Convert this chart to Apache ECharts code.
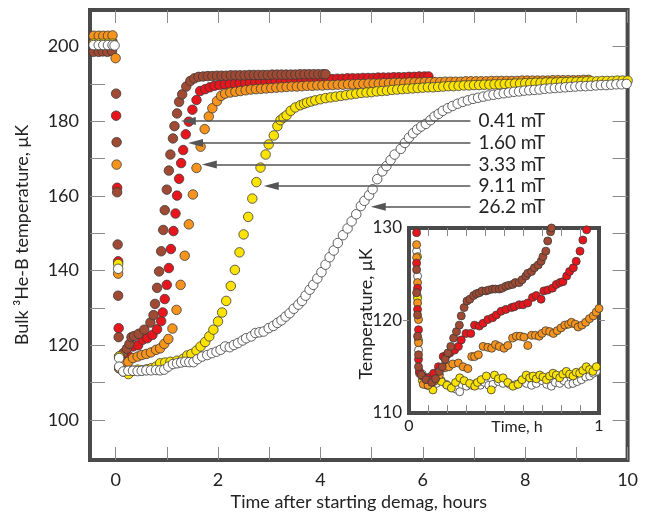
<!DOCTYPE html>
<html>
<head>
<meta charset="utf-8">
<script src="https://cdn.jsdelivr.net/npm/echarts@6/dist/echarts.min.js"></script>
<style>
  html, body { margin: 0; background: #fff; }
  #chart { width: 650px; height: 512px; }
</style>
</head>
<body>
<div id="chart"></div>
<script>
// field labels, colours
const fields = ['0.41 mT', '1.60 mT', '3.33 mT', '9.11 mT', '26.2 mT']
const colors = ['#a04a33', '#e8161c', '#f7941e', '#fde400', '#ffffff']

// main plot: [time h, temperature uK]
const brownMain = [[-0.43,198.6],[-0.33,198.6],[-0.25,198.7],[-0.16,198.6],[-0.07,198.8],
  [0.01,187.4],[0.02,174.4],[0.03,161.0],[0.04,147.0],[0.05,133.3],[0.06,122.2],[0.07,117.0],[0.07,113.9],
  [0.15,117.9],[0.22,119.1],[0.27,120.4],[0.31,122.2],[0.36,122.5],[0.45,123.1],[0.56,124.2],[0.68,126.1],
  [0.74,128.1],[0.77,131.1],[0.81,135.4],[0.85,139.8],[0.89,145.2],[0.93,150.9],[0.96,156.2],[1.00,161.7],
  [1.04,166.8],[1.07,171.1],[1.12,175.4],[1.15,178.7],[1.20,182.1],[1.24,185.2],[1.30,187.2],[1.38,189.3],
  [1.46,190.8],[1.54,191.5],[1.62,191.9],[1.71,192.0],[1.80,192.1],[1.89,192.1],[1.98,192.2],[2.07,192.2],
  [2.16,192.2],[2.25,192.3],[2.34,192.3],[2.43,192.3],[2.52,192.3],[2.61,192.4],[2.70,192.4],[2.79,192.4],
  [2.88,192.4],[2.97,192.4],[3.06,192.5],[3.15,192.5],[3.24,192.5],[3.33,192.5],[3.42,192.5],[3.51,192.5],
  [3.60,192.6],[3.69,192.6],[3.78,192.6],[3.87,192.6],[3.96,192.6],[4.05,192.6],[4.10,192.6]]

const redMain = [[-0.43,201.2],[-0.33,201.2],[-0.24,201.3],[-0.15,201.3],[-0.06,201.3],
  [0.01,181.5],[0.03,162.2],[0.05,142.5],[0.06,124.6],
  [0.14,116.0],[0.25,117.2],[0.34,119.7],[0.44,120.0],[0.53,121.5],[0.62,121.9],[0.72,122.8],[0.81,124.3],
  [0.89,126.5],[0.92,128.8],[0.96,132.4],[1.00,136.2],[1.04,140.7],[1.08,145.8],[1.13,150.6],[1.17,155.3],
  [1.20,160.1],[1.24,164.6],[1.28,168.8],[1.32,172.3],[1.37,176.5],[1.43,179.9],[1.50,183.1],[1.58,185.7],
  [1.65,188.1],[1.75,188.6],[1.84,189.1],[1.93,189.5],[2.03,189.7],[2.13,189.9],[2.23,190.0],[2.33,190.1],
  [2.43,190.2],[2.53,190.3],[2.63,190.4],[2.73,190.5],[2.83,190.6],[2.93,190.6],[3.03,190.7],[3.13,190.7],
  [3.23,190.8],[3.33,190.8],[3.43,190.9],[3.53,190.9],[3.63,191.0],[3.73,191.1],[3.83,191.1],[3.93,191.2],
  [4.03,191.2],[4.13,191.3],[4.23,191.3],[4.33,191.4],[4.43,191.4],[4.53,191.5],[4.63,191.5],[4.73,191.5],
  [4.83,191.6],[4.93,191.6],[5.03,191.6],[5.13,191.7],[5.23,191.7],[5.33,191.7],[5.43,191.8],[5.53,191.8],
  [5.63,191.8],[5.73,191.9],[5.83,191.9],[5.93,192.0],[6.03,192.0],[6.11,192.0]]

const orangeMain = [[-0.43,202.9],[-0.33,202.9],[-0.24,202.9],[-0.15,202.9],[-0.06,203.0],[0.00,196.9],
  [0.02,168.4],[0.05,139.2],[0.07,113.9],
  [0.15,115.2],[0.25,115.6],[0.34,116.6],[0.43,117.0],[0.51,117.4],[0.60,117.7],[0.69,118.1],[0.79,118.8],
  [0.87,119.2],[0.95,120.4],[1.03,121.7],[1.11,124.5],[1.19,129.5],[1.27,136.2],[1.35,144.0],[1.43,152.4],
  [1.51,160.4],[1.58,167.5],[1.66,173.2],[1.74,177.9],[1.82,181.3],[1.89,183.5],[1.98,185.4],[2.06,186.8],
  [2.14,187.4],[2.24,187.7],[2.34,187.9],[2.44,188.1],[2.54,188.3],[2.64,188.5],[2.74,188.6],[2.84,188.7],
  [2.94,188.8],[3.04,188.9],[3.14,189.0],[3.24,189.1],[3.34,189.2],[3.44,189.3],[3.54,189.3],[3.64,189.4],
  [3.74,189.5],[3.84,189.5],[3.94,189.6],[4.04,189.6],[4.14,189.7],[4.24,189.7],[4.34,189.8],[4.44,189.8],
  [4.54,189.9],[4.64,189.9],[4.74,190.0],[4.84,190.0],[4.94,190.1],[5.04,190.1],[5.14,190.1],[5.24,190.2],
  [5.34,190.2],[5.44,190.3],[5.54,190.3],[5.64,190.3],[5.74,190.4],[5.84,190.4],[5.94,190.4],[6.04,190.5],
  [6.14,190.5],[6.24,190.5],[6.34,190.5],[6.44,190.6],[6.54,190.6],[6.64,190.6],[6.74,190.6],[6.84,190.7],
  [6.94,190.7],[7.04,190.7],[7.14,190.7],[7.24,190.7],[7.34,190.8],[7.44,190.8],[7.54,190.8],[7.64,190.8],
  [7.74,190.8],[7.84,190.8],[7.94,190.9],[8.04,190.9],[8.14,190.9],[8.24,190.9],[8.34,190.9],[8.44,190.9],
  [8.54,191.0],[8.64,191.0],[8.74,191.0],[8.84,191.0],[8.94,191.0],[9.04,191.0],[9.14,191.1],[9.24,191.1]]

const yellowMain = [[-0.43,200.8],[-0.33,200.8],[-0.24,200.8],[-0.15,200.8],[-0.06,200.8],
  [0.05,141.8],[0.07,117.0],
  [0.15,113.0],[0.25,112.3],[0.34,113.2],[0.43,113.5],[0.52,113.3],[0.61,113.6],[0.70,113.9],[0.79,114.3],
  [0.87,115.2],[0.97,115.4],[1.07,115.6],[1.20,115.9],[1.32,116.4],[1.40,117.3],[1.48,117.7],[1.58,118.6],
  [1.66,119.7],[1.75,120.9],[1.83,122.4],[1.91,124.2],[2.00,126.4],[2.08,128.8],[2.16,131.9],[2.25,135.9],
  [2.33,140.2],[2.42,144.9],[2.50,149.7],[2.59,154.4],[2.67,159.3],[2.75,163.7],[2.83,167.6],[2.93,171.1],
  [2.99,173.8],[3.09,176.2],[3.16,178.7],[3.22,180.3],[3.28,181.0],[3.34,181.6],[3.42,182.8],[3.51,183.7],
  [3.61,184.3],[3.68,184.7],[3.74,185.0],[3.82,185.3],[3.90,185.6],[4.00,185.9],[4.10,186.2],[4.20,186.4],
  [4.30,186.6],[4.40,186.8],[4.50,187.0],[4.60,187.2],[4.70,187.4],[4.80,187.6],[4.90,187.7],[5.00,187.8],
  [5.10,188.0],[5.20,188.1],[5.30,188.2],[5.40,188.4],[5.50,188.5],[5.60,188.6],[5.70,188.7],[5.80,188.8],
  [5.90,188.9],[6.00,189.0],[6.10,189.1],[6.20,189.1],[6.30,189.2],[6.40,189.3],[6.50,189.4],[6.60,189.4],
  [6.70,189.5],[6.80,189.6],[6.90,189.6],[7.00,189.7],[7.10,189.7],[7.20,189.8],[7.30,189.8],[7.40,189.9],
  [7.50,189.9],[7.60,190.0],[7.70,190.0],[7.80,190.1],[7.90,190.1],[8.00,190.2],[8.10,190.2],[8.20,190.3],
  [8.30,190.3],[8.40,190.4],[8.50,190.4],[8.60,190.4],[8.70,190.5],[8.80,190.5],[8.90,190.6],[9.00,190.6],
  [9.10,190.6],[9.20,190.7],[9.30,190.7],[9.40,190.7],[9.50,190.8],[9.60,190.8],[9.70,190.8],[9.80,190.9],
  [9.90,190.9],[10.0,190.9]]

const whiteMain = [[-0.43,200.4],[-0.33,200.4],[-0.24,200.4],[-0.15,200.4],[-0.06,200.4],[-0.02,200.3],
  [0.05,140.5],[0.07,116.6],[0.07,114.3],
  [0.15,113.0],[0.25,113.2],[0.34,113.2],[0.43,113.1],[0.51,113.2],[0.60,113.3],[0.69,113.3],[0.79,113.4],
  [0.87,113.3],[0.95,113.5],[1.03,114.3],[1.12,115.0],[1.20,115.2],[1.28,115.4],[1.36,115.6],[1.44,115.5],
  [1.52,115.5],[1.60,116.3],[1.69,117.0],[1.79,117.4],[1.88,117.9],[1.97,118.3],[2.05,118.8],[2.14,119.7],
  [2.23,119.5],[2.31,120.1],[2.39,120.6],[2.48,121.3],[2.55,121.9],[2.65,122.4],[2.73,123.3],[2.81,123.5],
  [2.89,123.7],[2.99,124.6],[3.08,125.2],[3.16,126.0],[3.24,126.7],[3.32,127.7],[3.40,128.6],[3.48,129.8],
  [3.57,130.9],[3.64,131.9],[3.71,133.3],[3.79,134.9],[3.86,136.2],[3.94,137.9],[4.02,139.6],[4.10,141.6],
  [4.18,143.6],[4.26,145.4],[4.34,147.4],[4.44,149.5],[4.53,151.3],[4.61,153.2],[4.70,155.1],[4.79,157.3],
  [4.86,158.7],[4.95,160.2],[5.02,161.8],[5.11,164.5],[5.21,166.6],[5.29,168.0],[5.37,169.6],[5.45,171.1],
  [5.57,172.6],[5.65,174.2],[5.73,175.6],[5.81,176.8],[5.89,177.8],[5.97,178.6],[6.06,179.3],[6.15,180.3],
  [6.23,181.3],[6.31,182.0],[6.39,182.8],[6.49,183.5],[6.58,184.1],[6.68,184.7],[6.78,185.2],[6.88,185.6],
  [6.98,186.0],[7.08,186.3],[7.18,186.6],[7.28,186.9],[7.38,187.1],[7.48,187.3],[7.58,187.5],[7.68,187.7],
  [7.78,187.9],[7.88,188.0],[7.98,188.2],[8.08,188.3],[8.18,188.4],[8.28,188.5],[8.38,188.7],[8.48,188.8],
  [8.58,188.9],[8.68,189.0],[8.78,189.1],[8.88,189.2],[8.98,189.3],[9.08,189.4],[9.18,189.4],[9.28,189.5],
  [9.38,189.6],[9.48,189.7],[9.58,189.7],[9.68,189.8],[9.78,189.9],[9.88,189.9],[9.98,190.0]]

// inset: first hour
const brownInset = [[0.040,125.5],[0.040,123.0],[0.045,120.6],[0.045,118.3],[0.050,116.3],[0.050,115.0],
  [0.065,114.1],[0.090,113.6],[0.120,113.3],[0.140,113.7],[0.160,114.5],[0.175,115.0],[0.190,115.8],
  [0.205,116.5],[0.220,117.2],[0.235,118.1],[0.250,118.8],[0.265,119.5],[0.275,120.5],[0.290,121.4],
  [0.305,122.1],[0.320,122.3],[0.340,122.7],[0.355,122.9],[0.370,123.0],[0.385,123.2],[0.405,123.2],
  [0.420,123.3],[0.440,123.4],[0.455,123.4],[0.475,123.4],[0.490,123.5],[0.510,123.7],[0.525,123.8],
  [0.545,123.9],[0.560,124.1],[0.580,124.1],[0.595,124.4],[0.615,124.8],[0.625,125.1],[0.645,125.3],
  [0.660,125.7],[0.680,126.0],[0.695,126.4],[0.705,126.9],[0.720,127.5],[0.730,128.6],[0.745,129.6],[0.750,130.0]]

const redInset = [[0.040,129.5],[0.040,126.2],[0.045,123.5],[0.045,121.2],[0.050,119.0],[0.050,115.8],[0.055,114.5],
  [0.070,114.0],[0.100,113.8],[0.130,114.3],[0.155,115.0],[0.180,116.1],[0.200,116.3],[0.215,116.5],
  [0.240,116.8],[0.260,117.2],[0.275,117.9],[0.300,118.6],[0.325,118.6],[0.345,119.5],[0.370,119.4],
  [0.390,119.7],[0.415,120.1],[0.440,120.3],[0.460,120.6],[0.485,121.0],[0.510,121.2],[0.540,121.4],
  [0.555,121.5],[0.580,121.7],[0.600,121.7],[0.625,121.9],[0.650,122.5],[0.670,122.7],[0.695,122.3],
  [0.710,123.2],[0.730,123.3],[0.755,123.5],[0.775,123.9],[0.795,124.1],[0.810,124.2],[0.830,124.8],
  [0.845,125.3],[0.865,125.7],[0.880,126.4],[0.900,127.5],[0.915,128.7],[0.935,129.8]]

const orangeInset = [[0.040,128.2],[0.040,126.8],[0.045,124.1],[0.045,121.9],[0.050,120.1],[0.050,117.6],[0.055,114.3],
  [0.075,113.1],[0.100,113.0],[0.130,113.4],[0.160,114.1],[0.190,114.9],[0.210,115.0],[0.230,115.3],
  [0.260,115.4],[0.285,115.0],[0.310,114.8],[0.330,116.1],[0.345,116.1],[0.365,116.3],[0.390,117.2],
  [0.415,117.1],[0.435,117.0],[0.455,117.4],[0.475,117.2],[0.500,117.0],[0.520,117.3],[0.545,118.1],
  [0.565,118.3],[0.585,118.3],[0.605,118.2],[0.625,117.3],[0.645,118.4],[0.665,118.4],[0.685,118.3],
  [0.700,118.6],[0.720,118.9],[0.740,118.8],[0.760,118.6],[0.780,118.9],[0.800,119.2],[0.820,119.5],
  [0.840,119.6],[0.855,119.8],[0.875,119.6],[0.890,119.3],[0.910,119.5],[0.930,119.8],[0.950,120.2],
  [0.970,120.5],[0.985,120.9],[1.000,121.3]]

const yellowInset = [[0.045,126.9],[0.045,122.4],[0.050,117.9],
  [0.070,113.5],[0.095,113.0],[0.126,112.5],[0.150,113.6],[0.170,113.4],[0.200,113.0],[0.223,112.7],
  [0.245,113.3],[0.267,113.8],[0.290,113.5],[0.319,113.2],[0.346,112.9],[0.360,113.3],[0.380,113.6],
  [0.407,114.0],[0.433,112.5],[0.450,114.1],[0.470,113.7],[0.495,113.8],[0.520,113.3],[0.547,112.9],
  [0.574,113.1],[0.595,113.6],[0.617,114.1],[0.635,113.8],[0.653,114.0],[0.670,113.7],[0.688,114.1],
  [0.705,113.9],[0.723,113.6],[0.740,114.0],[0.758,114.3],[0.775,114.1],[0.793,113.8],[0.810,114.2],
  [0.828,114.5],[0.845,114.2],[0.863,114.0],[0.880,114.4],[0.898,114.3],[0.915,114.6],[0.933,115.0],
  [0.950,114.7],[0.968,114.5],[0.986,115.0]]

const whiteInset = [[0.040,127.5],[0.045,124.8],[0.045,122.6],[0.050,116.8],
  [0.070,114.2],[0.091,113.8],[0.118,114.0],[0.144,113.2],[0.170,113.5],[0.196,113.1],[0.220,112.8],
  [0.245,112.6],[0.267,112.3],[0.302,112.9],[0.330,113.0],[0.354,113.2],[0.375,113.0],[0.398,113.3],
  [0.420,113.0],[0.442,113.1],[0.470,113.4],[0.495,113.2],[0.530,113.1],[0.565,113.1],[0.590,113.4],
  [0.618,113.2],[0.645,113.0],[0.670,113.2],[0.700,113.5],[0.725,113.1],[0.749,112.9],[0.770,113.3],
  [0.793,113.2],[0.815,113.5],[0.840,113.1],[0.863,113.2],[0.885,113.4],[0.907,113.6],[0.930,113.9],
  [0.951,114.0],[0.970,114.3],[0.986,114.5]]

// arrow tips (time, temperature) and where the arrows start
const arrowTips = [[1.42, 180.1], [1.56, 174.2], [1.83, 168.4], [3.04, 162.7], [5.13, 157.1]]
const arrowStart = 6.93

const xTicks = [0, 1, 2, 3, 4, 5, 6, 7, 8, 9, 10]
const xLabels = [0, 2, 4, 6, 8, 10]
const yTicks = [100, 110, 120, 130, 140, 150, 160, 170, 180, 190, 200]
const yLabels = [100, 120, 140, 160, 180, 200]
const insetXTicks = [0.1, 0.2, 0.3, 0.4, 0.5, 0.6, 0.7, 0.8, 0.9]
const insetXLabels = [0, 1]
const insetYLabels = [110, 120, 130]

const font = 'Lato, "Open Sans", sans-serif'
const frame = '#4a4a4a'
const tickStyle = { color: '#8a8a8a', width: 1 }

function xAxis(grid, min, max, pos, ticks, labels, len) {
  return {
    type: 'value', gridIndex: grid, position: pos, min: min, max: max,
    nameMoveOverlap: false,
    axisLine: { show: false, onZero: false },
    splitLine: { show: false },
    axisTick: { show: true, inside: true, length: len, customValues: ticks, lineStyle: tickStyle },
    axisLabel: labels ? { customValues: labels, color: '#222', fontFamily: font, fontSize: grid ? 16 : 18, margin: grid ? 5 : 11 } : { show: false }
  }
}

function yAxis(grid, min, max, pos, ticks, labels, len, inside) {
  return {
    type: 'value', gridIndex: grid, position: pos, min: min, max: max,
    nameMoveOverlap: false,
    axisLine: { show: false, onZero: false },
    splitLine: { show: false },
    axisTick: { show: true, inside: inside, length: len, customValues: ticks, lineStyle: tickStyle },
    axisLabel: labels ? { customValues: labels, color: '#222', fontFamily: font, fontSize: grid ? 17 : 18, margin: grid ? 7 : 11 } : { show: false }
  }
}

function scatter(data, color, xi, yi, size) {
  return {
    type: 'scatter', xAxisIndex: xi, yAxisIndex: yi, data: data,
    symbol: 'circle', symbolSize: size, z: 4,
    itemStyle: { color: color, borderColor: '#3a3a3a', borderWidth: 0.8, opacity: 1 },
    emphasis: { disabled: true }
  }
}

const chart = echarts.init(document.getElementById('chart'), null, { renderer: 'canvas' })

const xMain = xAxis(0, -0.5, 10, 'bottom', xTicks, xLabels, 13)
xMain.name = 'Time after starting demag, hours'
xMain.nameLocation = 'middle'
xMain.nameGap = 33
xMain.nameTextStyle = { color: '#222', fontFamily: font, fontSize: 18 }

const yMain = yAxis(0, 89.3, 209.8, 'left', yTicks, yLabels, 15, true)
yMain.name = 'Bulk \u00b3He-B temperature, \u03bcK'
yMain.nameLocation = 'middle'
yMain.nameGap = 59
yMain.nameTextStyle = { color: '#222', fontFamily: font, fontSize: 18 }

const xInset = xAxis(1, 0, 1, 'bottom', insetXTicks, insetXLabels, 8)
xInset.name = 'Time, h'
xInset.nameLocation = 'middle'
xInset.nameGap = 6
xInset.nameTextStyle = { color: '#222', fontFamily: font, fontSize: 16, padding: [0, 0, 0, 26] }

const yInset = yAxis(1, 110, 130, 'left', [120], insetYLabels, 6, false)
yInset.name = 'Temperature, \u03bcK'
yInset.nameLocation = 'middle'
yInset.nameGap = 34
yInset.nameTextStyle = { color: '#222', fontFamily: font, fontSize: 18, padding: [0, 0, 0, 13] }

const mainSets = [redMain, brownMain, orangeMain, yellowMain, whiteMain]
const mainColors = [colors[1], colors[0], colors[2], colors[3], colors[4]]
const insetSets = [whiteInset, yellowInset, orangeInset, redInset, brownInset]
const insetColors = [colors[4], colors[3], colors[2], colors[1], colors[0]]

const series = []
mainSets.forEach((d, i) => series.push(scatter(d, mainColors[i], 0, 0, 9.5)))
series.push({
  type: 'line', xAxisIndex: 0, yAxisIndex: 0, data: [], z: 6,
  markLine: {
    silent: true,
    animation: false,
    symbol: ['none', 'path://M5,0L10,18L0,18Z'],
    symbolSize: [1, 14],
    lineStyle: { color: '#555', width: 1.7, type: 'solid' },
    label: { show: true, position: 'start', distance: 8, formatter: '{b}', color: '#222', fontFamily: font, fontSize: 19, padding: [0, 0, 6, 0] },
    data: fields.map((f, i) => [
      { name: f, coord: [arrowStart, arrowTips[i][1]] },
      { coord: arrowTips[i], symbolSize: [8, 15] }
    ])
  }
})
insetSets.forEach((d, i) => series.push(scatter(d, insetColors[i], 2, 2, 8)))

chart.setOption({
  animation: false,
  backgroundColor: '#fff',
  grid: [
    { left: 90, top: 10, width: 537.6, height: 450, show: true, borderColor: frame, borderWidth: 4,
      backgroundColor: 'transparent', containLabel: false, outerBoundsMode: 'none' },
    { left: 409, top: 228, width: 190, height: 185, show: true, borderColor: frame, borderWidth: 4,
      backgroundColor: '#fff', containLabel: false, outerBoundsMode: 'none' }
  ],
  xAxis: [
    xMain,
    xAxis(0, -0.5, 10, 'top', xTicks, null, 13),
    xInset,
    xAxis(1, 0, 1, 'top', insetXTicks, null, 8)
  ],
  yAxis: [
    yMain,
    yAxis(0, 89.3, 209.8, 'right', yTicks, null, 15, true),
    yInset,
    yAxis(1, 110, 130, 'right', [120], null, 6, false)
  ],
  series: series
})
</script>
</body>
</html>
